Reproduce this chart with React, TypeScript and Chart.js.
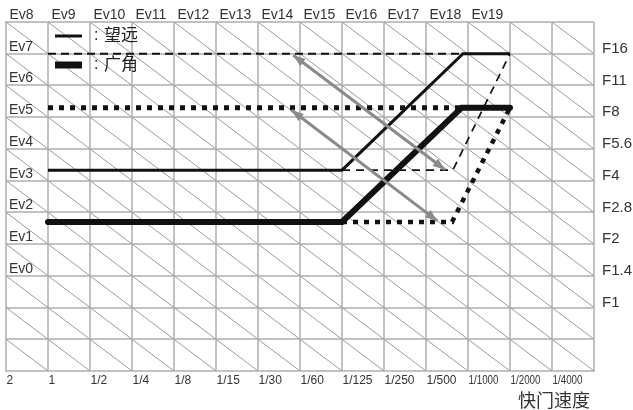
import React, { useEffect, useRef } from "react";
import { Chart, registerables } from "chart.js";
Chart.register(...registerables);

// ---- tick labels ----
const shutterLabels = ["2", "1", "1/2", "1/4", "1/8", "1/15", "1/30", "1/60", "1/125", "1/250", "1/500", "1/1000", "1/2000", "1/4000"];
const apertureLabels = ["F1", "F1.4", "F2", "F2.8", "F4", "F5.6", "F8", "F11", "F16"]; // aperture stops 2..10
const apertureStart = 2;
const topEvLabels = ["Ev8", "Ev9", "Ev10", "Ev11", "Ev12", "Ev13", "Ev14", "Ev15", "Ev16", "Ev17", "Ev18", "Ev19"]; // shutter stops 0..11 at top
const leftEvLabels = ["Ev7", "Ev6", "Ev5", "Ev4", "Ev3", "Ev2", "Ev1", "Ev0"]; // aperture stops 10..3 at left
const xAxisTitle = "快门速度";
const legendTele = "望远";
const legendWide = "广角";

const xMax = 14;
const yMax = 11;

// ---- series (x: shutter stop index, y: aperture stop index) ----
const teleX = [1, 8, 10.88, 12];
const teleY = [6.33, 6.33, 10, 10];
const wideX = [1, 8, 10.85, 12];
const wideY = [4.7, 4.7, 8.3, 8.3];
const teleDashTopX = [1, 10.88];
const teleDashTopY = [10, 10];
const wideDotTopX = [1, 10.85];
const wideDotTopY = [8.3, 8.3];
const teleDashRightX = [8, 10.64, 12];
const teleDashRightY = [6.33, 6.33, 10];
const wideDotRightX = [8, 10.62, 12];
const wideDotRightY = [4.7, 4.7, 8.3];
const arrowUpperX = [6.84, 10.45];
const arrowUpperY = [9.95, 6.35];
const arrowLowerX = [6.8, 10.27];
const arrowLowerY = [8.22, 4.73];

const pts = (xs: number[], ys: number[]) => xs.map((x, i) => ({ x, y: ys[i] }));

const diagPlugin = {
  id: "diagonals",
  beforeDatasetsDraw(chart: any) {
    const { ctx, chartArea, scales } = chart;
    const xs = scales.x, ys = scales.y;
    ctx.save();
    ctx.beginPath();
    ctx.rect(chartArea.left, chartArea.top, chartArea.right - chartArea.left, chartArea.bottom - chartArea.top);
    ctx.clip();
    ctx.strokeStyle = "#9a9a9a";
    ctx.lineWidth = 1;
    for (let c = 1; c < xMax + yMax; c++) {
      const x1 = c <= yMax ? 0 : c - yMax;
      const y1 = c - x1;
      const x2 = c <= xMax ? c : xMax;
      const y2 = c - x2;
      ctx.beginPath();
      ctx.moveTo(xs.getPixelForValue(x1), ys.getPixelForValue(y1));
      ctx.lineTo(xs.getPixelForValue(x2), ys.getPixelForValue(y2));
      ctx.stroke();
    }
    ctx.restore();
  },
};

const arrowPlugin = {
  id: "arrowheads",
  afterDatasetsDraw(chart: any) {
    const { ctx } = chart;
    chart.data.datasets.forEach((ds: any, i: number) => {
      if (!ds.isArrow) return;
      const meta = chart.getDatasetMeta(i);
      const p = meta.data;
      const n = p.length;
      const head = (tip: any, from: any) => {
        const ang = Math.atan2(tip.y - from.y, tip.x - from.x);
        const L = 12, W = 4.5;
        ctx.beginPath();
        ctx.moveTo(tip.x, tip.y);
        ctx.lineTo(tip.x - L * Math.cos(ang) + W * Math.sin(ang), tip.y - L * Math.sin(ang) - W * Math.cos(ang));
        ctx.lineTo(tip.x - L * Math.cos(ang) - W * Math.sin(ang), tip.y - L * Math.sin(ang) + W * Math.cos(ang));
        ctx.closePath();
        ctx.fill();
      };
      ctx.save();
      ctx.fillStyle = ds.borderColor;
      head(p[0], p[1]);
      head(p[n - 1], p[n - 2]);
      ctx.restore();
    });
  },
};

const labelPlugin = {
  id: "labels",
  afterDraw(chart: any) {
    const { ctx, chartArea, scales } = chart;
    const xs = scales.x, ys = scales.y;
    ctx.save();
    ctx.fillStyle = "#333";
    ctx.textAlign = "left";
    ctx.textBaseline = "alphabetic";
    ctx.font = "14px 'Liberation Sans', Arial, sans-serif";
    topEvLabels.forEach((t, i) => {
      ctx.fillText(t, xs.getPixelForValue(i) + 3.5, chartArea.top - 3);
    });
    leftEvLabels.forEach((t, i) => {
      ctx.fillText(t, xs.getPixelForValue(0) + 3, ys.getPixelForValue(10 - i) - 3);
    });
    ctx.font = "15px 'Liberation Sans', Arial, sans-serif";
    ctx.textBaseline = "middle";
    apertureLabels.forEach((t, i) => {
      ctx.fillText(t, chartArea.right + 8, ys.getPixelForValue(apertureStart + i) - 5);
    });
    ctx.font = "12px 'Liberation Sans', Arial, sans-serif";
    ctx.textBaseline = "alphabetic";
    shutterLabels.forEach((t, i) => {
      ctx.fillText(t, xs.getPixelForValue(i) + 0.5, chartArea.bottom + 13, 30);
    });
    ctx.font = "18px 'Noto Sans CJK SC', sans-serif";
    ctx.textAlign = "right";
    ctx.textBaseline = "middle";
    ctx.fillText(xAxisTitle, chartArea.right - 4, chartArea.bottom + 29);

    // legend
    const lx = chartArea.left + 49;
    ctx.strokeStyle = "#111";
    ctx.lineCap = "butt";
    ctx.lineWidth = 3;
    ctx.beginPath();
    ctx.moveTo(lx, chartArea.top + 14);
    ctx.lineTo(lx + 27, chartArea.top + 14);
    ctx.stroke();
    ctx.lineWidth = 7;
    ctx.beginPath();
    ctx.moveTo(lx, chartArea.top + 43);
    ctx.lineTo(lx + 27, chartArea.top + 43);
    ctx.stroke();
    ctx.fillStyle = "#222";
    ctx.textAlign = "left";
    ctx.font = "16px 'Liberation Sans', Arial, sans-serif";
    ctx.fillText(":", lx + 39, chartArea.top + 14);
    ctx.fillText(":", lx + 39, chartArea.top + 43);
    ctx.font = "17px 'Noto Sans CJK SC', sans-serif";
    ctx.fillText(legendTele, lx + 49, chartArea.top + 13);
    ctx.fillText(legendWide, lx + 49, chartArea.top + 42);
    ctx.restore();
  },
};

export default function App() {
  const ref = useRef<HTMLCanvasElement | null>(null);
  useEffect(() => {
    if (!ref.current) return;
    const line = (data: any, color: string, width: number, dash: number[], order: number, extra: any = {}) => ({
      data,
      showLine: true,
      borderColor: color,
      backgroundColor: color,
      borderWidth: width,
      borderDash: dash,
      pointRadius: 0,
      fill: false,
      tension: 0,
      order,
      ...extra,
    });
    const chart = new Chart(ref.current, {
      type: "scatter",
      data: {
        datasets: [
          line(pts(arrowUpperX, arrowUpperY), "#8a8a8a", 3, [], 0, { isArrow: true }),
          line(pts(arrowLowerX, arrowLowerY), "#8a8a8a", 3, [], 0, { isArrow: true }),
          line(pts(teleX, teleY), "#111", 3, [], 1),
          line(pts(wideX, wideY), "#111", 6, [], 1, { borderCapStyle: "round", borderJoinStyle: "miter" }),
          line(pts(teleDashTopX, teleDashTopY), "#111", 2, [8, 5], 2),
          line(pts(wideDotTopX, wideDotTopY), "#111", 5, [5, 6], 2),
          line(pts(teleDashRightX, teleDashRightY), "#111", 1.7, [8, 6], 2),
          line(pts(wideDotRightX, wideDotRightY), "#111", 4.5, [5, 6], 2),
        ] as any,
      },
      options: {
        animation: false,
        responsive: false,
        layout: { padding: { left: 6, top: 22, right: 39, bottom: 39 } },
        plugins: { legend: { display: false }, tooltip: { enabled: false } },
        scales: {
          x: {
            type: "linear",
            min: 0,
            max: xMax,
            ticks: { display: false, stepSize: 1 },
            grid: { color: "#c2c2c2", lineWidth: 2, drawTicks: false },
            border: { color: "#c2c2c2", width: 2 },
          },
          y: {
            type: "linear",
            min: 0,
            max: yMax,
            ticks: { display: false, stepSize: 1 },
            grid: { color: "#c2c2c2", lineWidth: 2, drawTicks: false },
            border: { color: "#c2c2c2", width: 2 },
          },
        },
      } as any,
      plugins: [diagPlugin, arrowPlugin, labelPlugin],
    });
    return () => chart.destroy();
  }, []);
  return (
    <canvas
      ref={ref}
      width={633}
      height={410}
      style={{ position: "fixed", left: 0, top: 0, width: 633, height: 410, display: "block", background: "#fff" }}
    />
  );
}
